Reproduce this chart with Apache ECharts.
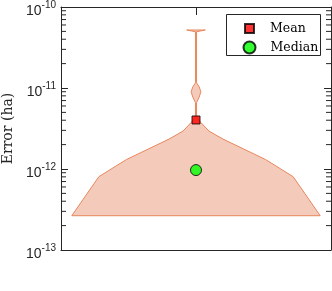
<!DOCTYPE html>
<html><head><meta charset="utf-8">
<script src="https://cdn.jsdelivr.net/npm/echarts@6/dist/echarts.min.js"></script>
<style>html,body{margin:0;padding:0;background:#fff}#c{width:332px;height:291px}</style>
</head><body><div id="c"></div>
<script>
// Violin outline (log-scale y values) and its half-width (x units)
const violinY = [2.65e-13, 8.03e-13, 1.31e-12, 2.34e-12, 2.94e-12, 3.73e-12, 4.14e-12, 4.64e-12, 6.59e-12, 7.74e-12, 9.0e-12, 1.028e-11, 1.16e-11, 4.95e-11, 5.2e-11];
const violinHalfWidth = [0.92, 0.72, 0.515, 0.20, 0.096, 0.037, 0.015, 0.004, 0.004, 0.024, 0.036, 0.024, 0.004, 0.004, 0.069];
const meanValue = [4.03e-12];
const medianValue = [9.7e-13];
const legendNames = ['Mean', 'Median'];
const yAxisName = 'Error (ha)';
const minorTicks = [2e-13, 3e-13, 4e-13, 5e-13, 6e-13, 7e-13, 8e-13, 9e-13,
                    2e-12, 3e-12, 4e-12, 5e-12, 6e-12, 7e-12, 8e-12, 9e-12,
                    2e-11, 3e-11, 4e-11, 5e-11, 6e-11, 7e-11, 8e-11, 9e-11];

const axisColor = '#262626';
const chart = echarts.init(document.getElementById('c'), null, {renderer: 'canvas'});

function yAxisBase(pos) {
  return {
    type: 'log', min: 1e-13, max: 1e-10, position: pos,
    splitLine: {show: false},
    axisLine: {show: true, onZero: false, lineStyle: {color: axisColor}},
    axisTick: {show: true, inside: true, length: 7, lineStyle: {color: axisColor, width: 1}}
  };
}

const option = {
  animation: false,
  grid: {left: 61, right: 1, top: 7, bottom: 41, outerBoundsMode: 'none'},
  xAxis: [
    {type: 'value', min: -1, max: 1, position: 'bottom',
     axisLine: {show: true, onZero: false, lineStyle: {color: axisColor}},
     axisTick: {show: false}, axisLabel: {show: false}, splitLine: {show: false}},
    {type: 'value', min: -1, max: 1, interval: 1, position: 'top',
     axisLine: {show: true, onZero: false, lineStyle: {color: axisColor}},
     axisTick: {show: true, inside: true, length: 8, lineStyle: {color: axisColor, width: 1}},
     axisLabel: {show: false}, splitLine: {show: false}}
  ],
  yAxis: [
    Object.assign(yAxisBase('left'), {
      name: yAxisName, nameLocation: 'middle', nameGap: 46,
      nameTextStyle: {fontFamily: 'DejaVu Serif', fontSize: 14, color: axisColor},
      axisLabel: {
        show: true, margin: 5,
        formatter: v => '{b|10}{s|' + Math.round(Math.log10(v)) + '}',
        rich: {
          b: {fontFamily: 'Liberation Sans', fontSize: 14, color: axisColor, padding: [8, 0, 0, 0], verticalAlign: 'bottom'},
          s: {fontFamily: 'Liberation Sans', fontSize: 10, color: axisColor, padding: [4, 0, 0, 0], verticalAlign: 'top'}
        }
      }
    }),
    Object.assign(yAxisBase('right'), {axisLabel: {show: false}})
  ],
  graphic: [{
    type: 'rect', z: 3,
    shape: {x: 226.5, y: 14.5, width: 94, height: 41},
    style: {fill: '#fff', stroke: axisColor, lineWidth: 1}
  }],
  legend: [
    {data: [legendNames[0]], left: 244, top: 22, orient: 'vertical', padding: 0, z: 5,
     itemWidth: 9, itemHeight: 9, selectedMode: false,
     textStyle: {fontFamily: 'DejaVu Serif', fontSize: 12.5, color: '#000', padding: [0, 0, 0, 11]}},
    {data: [legendNames[1]], left: 242.5, top: 40.5, orient: 'vertical', padding: 0, z: 5,
     itemWidth: 12, itemHeight: 12, selectedMode: false,
     textStyle: {fontFamily: 'DejaVu Serif', fontSize: 12.5, color: '#000', padding: [0, 0, 0, 10]}}
  ],
  series: [
    {
      // minor ticks (2..9 x 10^k) on both y sides, placed through the log scale
      type: 'custom', xAxisIndex: 0, yAxisIndex: 0,
      data: minorTicks.map(v => [0, v]),
      renderItem: function (params, api) {
        const v = api.value(1);
        const l = api.coord([-1, v]);
        const r = api.coord([1, v]);
        return {
          type: 'group',
          children: [
            {type: 'line', shape: {x1: l[0], y1: l[1], x2: l[0] + 5, y2: l[1]}, style: {stroke: axisColor, lineWidth: 1}},
            {type: 'line', shape: {x1: r[0], y1: r[1], x2: r[0] - 5, y2: r[1]}, style: {stroke: axisColor, lineWidth: 1}}
          ]
        };
      }
    },
    {
      type: 'custom', xAxisIndex: 0, yAxisIndex: 0,
      data: [[0, medianValue[0]]],
      renderItem: function (params, api) {
        const right = violinY.map((y, i) => api.coord([violinHalfWidth[i], y]));
        const left = violinY.map((y, i) => api.coord([-violinHalfWidth[i], y])).reverse();
        return {
          type: 'polygon',
          shape: {points: right.concat(left)},
          style: {fill: '#F4CBBA', stroke: '#E8865C', lineWidth: 1}
        };
      }
    },
    {
      type: 'scatter', name: legendNames[0], z: 4,
      symbol: 'rect', symbolSize: 8,
      itemStyle: {color: '#FF0000', borderColor: '#000', borderWidth: 1},
      data: meanValue.map(v => [0, v])
    },
    {
      type: 'scatter', name: legendNames[1], z: 4,
      symbol: 'circle', symbolSize: 11,
      itemStyle: {color: '#00FF00', borderColor: '#000', borderWidth: 1},
      data: medianValue.map(v => [0, v])
    }
  ]
};
chart.setOption(option);
</script>
</body></html>
